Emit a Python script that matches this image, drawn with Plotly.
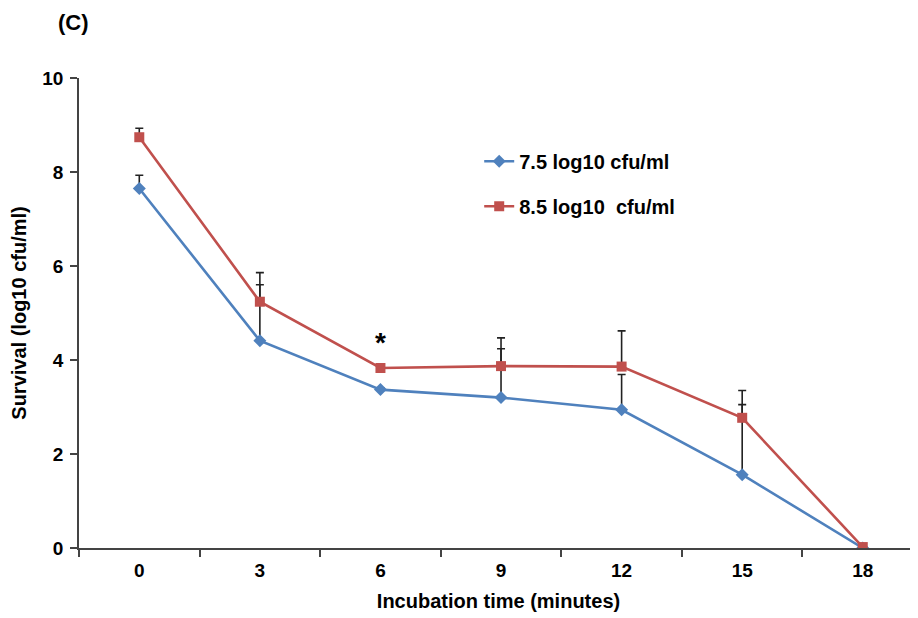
import plotly.graph_objects as go

times = ["0", "3", "6", "9", "12", "15", "18"]
low_mean = [7.65, 4.41, 3.37, 3.20, 2.94, 1.56, 0.0]
low_err = [0.28, 1.19, 0.04, 1.04, 0.75, 1.49, 0.0]
high_mean = [8.74, 5.24, 3.83, 3.87, 3.86, 2.77, 0.02]
high_err = [0.19, 0.62, 0.0, 0.60, 0.76, 0.58, 0.0]
y_ticks = [0, 2, 4, 6, 8, 10]

FONT = "Liberation Sans"
fig = go.Figure()

fig.add_trace(go.Scatter(
    x=times, y=low_mean, mode="lines+markers", name="<b>7.5 log10 cfu/ml</b>",
    line=dict(color="#4F81BD", width=2.6),
    marker=dict(symbol="diamond", size=10, color="#4F81BD"),
    error_y=dict(type="data", symmetric=False, array=low_err,
                 arrayminus=[0] * len(low_err), color="#222222",
                 thickness=1.6, width=4),
    legendgroup="a",
))
fig.add_trace(go.Scatter(
    x=times, y=high_mean, mode="lines+markers", name="<b>8.5 log10  cfu/ml</b>",
    line=dict(color="#C0504D", width=2.6),
    marker=dict(symbol="square", size=10, color="#C0504D"),
    error_y=dict(type="data", symmetric=False, array=high_err,
                 arrayminus=[0] * len(high_err), color="#222222",
                 thickness=1.6, width=4),
    legendgroup="b",
))

fig.add_annotation(x=2, y=4.38, text="<b>*</b>", showarrow=False,
                   font=dict(size=28, color="black", family=FONT), yanchor="middle")
fig.add_annotation(xref="paper", yref="paper", x=-0.028, y=1.118, text="<b>(C)</b>",
                   showarrow=False, font=dict(size=22, color="black", family=FONT),
                   xanchor="left", yanchor="middle")

fig.update_layout(
    width=910, height=610,
    margin=dict(l=71, r=0, t=70, b=70),
    paper_bgcolor="white", plot_bgcolor="white",
    font=dict(family=FONT, color="black", size=19),
    showlegend=True,
    legend=dict(x=0.477, y=0.775, xanchor="left", yanchor="middle",
                font=dict(size=20, family=FONT), tracegroupgap=16,
                bgcolor="rgba(0,0,0,0)", itemwidth=30),
    xaxis=dict(type="category", range=[-0.5, 6.458], tickson="boundaries",
               ticks="outside", ticklen=7, tickcolor="#444", tickwidth=1.5,
               showline=True, linecolor="#444", linewidth=1.5,
               showgrid=False, zeroline=False, automargin=False,
               ticklabelstandoff=4,
               tickfont=dict(size=19, family=FONT),
               tickprefix="<b>", ticksuffix="</b>",
               title=dict(text="<b>Incubation time (minutes)</b>", standoff=14,
                          font=dict(size=20, family=FONT))),
    yaxis=dict(range=[0, 10], tickvals=y_ticks,
               ticktext=[f"<b>{v}</b>" for v in y_ticks],
               ticks="outside", ticklen=7, tickcolor="#444", tickwidth=1.5,
               showline=True, linecolor="#444", linewidth=1.5,
               showgrid=False, zeroline=False, automargin=False,
               ticklabelstandoff=3,
               tickfont=dict(size=19, family=FONT),
               title=dict(text="<b>Survival (log10 cfu/ml)</b>", standoff=12,
                          font=dict(size=20, family=FONT))),
)

fig.write_html("out.html")
